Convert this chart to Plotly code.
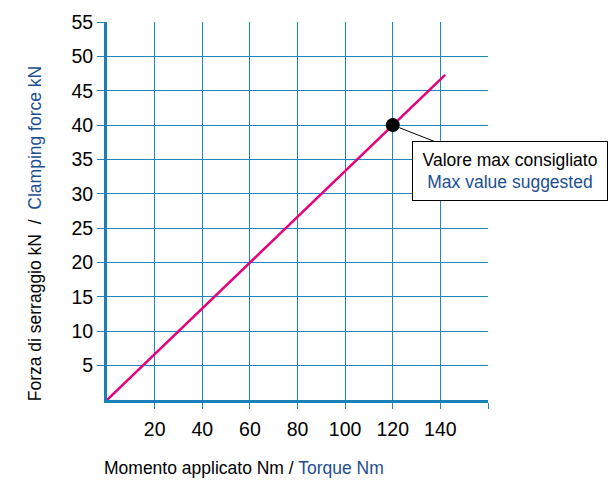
import plotly.graph_objects as go

# data
torque_nm = [0, 142]
clamp_kn = [0, 47.3]
max_torque = [120]
max_clamp = [40]
x_ticks = [20, 40, 60, 80, 100, 120, 140, 160]
x_labels = ['20', '40', '60', '80', '100', '120', '140', '']
y_ticks = [5, 10, 15, 20, 25, 30, 35, 40, 45, 50, 55]

GRID = '#1f86bd'
AXIS = '#1a80b8'
DARK_BLUE = '#1d4f8f'
FONT = "Liberation Sans, Arial, sans-serif"

fig = go.Figure()
fig.add_trace(go.Scatter(
    x=torque_nm, y=clamp_kn, mode='lines',
    line=dict(color='#e5007d', width=2.5), hoverinfo='skip'
))
fig.add_trace(go.Scatter(
    x=max_torque, y=max_clamp, mode='markers',
    marker=dict(color='black', size=14), hoverinfo='skip'
))

fig.add_annotation(
    x=max_torque[0], y=max_clamp[0], xref='x', yref='y',
    ax=117, ay=46, axref='pixel', ayref='pixel',
    text=f"Valore max consigliato<br><span style='color:{DARK_BLUE}'>Max value suggested</span>",
    showarrow=True, arrowhead=0, arrowwidth=1, arrowcolor='black', standoff=7,
    bordercolor='black', borderwidth=1, borderpad=6, bgcolor='white',
    width=182, height=46, align='center',
    font=dict(family=FONT, size=17.5, color='black')
)

# axis titles (two-colour text)
fig.add_annotation(
    x=-0.19, y=0.44, xref='paper', yref='paper', xanchor='center', yanchor='middle',
    text=f"Forza di serraggio kN  /  <span style='color:{DARK_BLUE}'>Clamping force kN</span>",
    textangle=-90, showarrow=False, font=dict(family=FONT, size=17.5, color='black')
)
fig.add_annotation(
    x=-0.012, y=-0.18, xref='paper', yref='paper', xanchor='left', yanchor='middle',
    text=f"Momento applicato Nm / <span style='color:{DARK_BLUE}'>Torque Nm</span>",
    showarrow=False, font=dict(family=FONT, size=17.5, color='black')
)

fig.update_layout(
    width=611, height=481,
    margin=dict(l=107, r=123, t=22, b=81, autoexpand=False),
    paper_bgcolor='white', plot_bgcolor='white',
    showlegend=False,
    font=dict(family=FONT, size=19.5, color='black'),
    xaxis=dict(
        range=[0, 160], tickvals=x_ticks, ticktext=x_labels,
        showgrid=True, gridcolor=GRID, gridwidth=1,
        showline=True, linecolor=AXIS, linewidth=3,
        ticks='outside', ticklen=6, tickcolor=GRID, tickwidth=1,
        zeroline=False, fixedrange=True, ticklabelstandoff=4
    ),
    yaxis=dict(
        range=[0, 55], tickvals=y_ticks,
        showgrid=True, gridcolor=GRID, gridwidth=1,
        showline=True, linecolor=AXIS, linewidth=3,
        ticks='outside', ticklen=7, tickcolor=GRID, tickwidth=1,
        zeroline=False, fixedrange=True
    )
)

# the page body has a default 8px margin; drop it so the figure fills the window
fig.write_html("out.html", config={'displayModeBar': False},
               post_script="document.body.style.margin='0';")
